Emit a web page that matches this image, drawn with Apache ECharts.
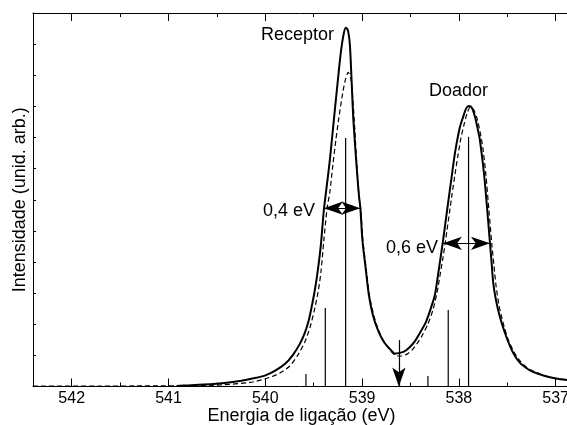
<!DOCTYPE html>
<html>
<head>
<meta charset="utf-8">
<script src="https://cdn.jsdelivr.net/npm/echarts@6.0.0/dist/echarts.min.js"></script>
<style>
  html, body { margin: 0; padding: 0; background: #fff; }
  #chart { width: 567px; height: 425px; }
</style>
</head>
<body>
<div id="chart"></div>
<script>
// energia (eV) e intensidade
const solidE = [540.918, 540.780, 540.470, 540.263, 540.108, 540.005, 539.902, 539.798, 539.716, 539.643,
  539.592, 539.550, 539.519, 539.488, 539.457, 539.426, 539.395, 539.364, 539.333, 539.292,
  539.250, 539.219, 539.188, 539.168, 539.147, 539.126, 539.111, 539.090, 539.054, 539.033,
  539.018, 538.997, 538.961, 538.930, 538.889, 538.837, 538.775, 538.713, 538.661, 538.610,
  538.558, 538.506, 538.454, 538.403, 538.341, 538.289, 538.248, 538.217, 538.191, 538.170,
  538.150, 538.127, 538.103, 538.075, 538.051, 538.023, 537.989, 537.955, 537.927, 537.896,
  537.865, 537.834, 537.803, 537.783, 537.741, 537.707, 537.690, 537.679, 537.664, 537.645,
  537.617, 537.576, 537.524, 537.472, 537.421, 537.369, 537.297, 537.235, 537.111, 536.997, 536.883];
const solidI = [0.02, 0.04, 0.10, 0.18, 0.27, 0.35, 0.50, 0.72, 1.01, 1.37,
  1.72, 2.14, 2.59, 3.10, 3.74, 4.55, 5.67, 6.47, 7.28, 8.56,
  9.85, 10.75, 11.36, 11.53, 11.45, 10.97, 10.01, 8.56, 6.96, 6.15,
  5.74, 4.71, 3.74, 2.94, 2.30, 1.82, 1.43, 1.21, 1.06, 1.08,
  1.14, 1.27, 1.46, 1.72, 2.07, 2.52, 2.94, 3.55, 4.10, 4.55,
  5.00, 5.54, 6.09, 6.73, 7.28, 7.82, 8.34, 8.67, 8.92, 9.01,
  8.95, 8.67, 8.24, 7.92, 6.86, 5.67, 5.03, 4.61, 4.06, 3.33,
  2.78, 2.23, 1.72, 1.30, 0.98, 0.76, 0.58, 0.47, 0.34, 0.26, 0.21];

const dashE = [542.40, 541.711, 541.194, 540.780, 540.470, 540.160, 540.005, 539.850, 539.747, 539.664,
  539.592, 539.540, 539.498, 539.457, 539.426, 539.395, 539.361, 539.333, 539.302, 539.271,
  539.240, 539.209, 539.178, 539.144, 539.116, 539.095, 539.075, 539.054, 539.033, 539.013,
  538.992, 538.956, 538.925, 538.878, 538.827, 538.765, 538.703, 538.641, 538.589, 538.537,
  538.485, 538.434, 538.382, 538.320, 538.268, 538.227, 538.196, 538.165, 538.144, 538.124,
  538.098, 538.072, 538.041, 538.010, 537.979, 537.948, 537.917, 537.881, 537.845, 537.814,
  537.783, 537.752, 537.721, 537.690, 537.659, 537.638, 537.617, 537.586, 537.545, 537.493,
  537.431, 537.369, 537.297, 537.214, 537.111, 536.997, 536.883];
const dashI = [0.01, 0.01, 0.02, 0.02, 0.05, 0.13, 0.24, 0.43, 0.66, 1.01,
  1.43, 1.88, 2.39, 3.00, 3.65, 4.71, 5.74, 6.25, 7.12, 7.92,
  8.63, 9.27, 9.78, 10.09, 9.91, 9.21, 8.24, 7.12, 6.15, 5.67,
  4.71, 3.74, 2.94, 2.27, 1.78, 1.40, 1.14, 0.98, 0.98, 1.04,
  1.17, 1.37, 1.62, 2.01, 2.46, 3.00, 3.55, 4.13, 4.55, 5.00,
  5.57, 6.15, 6.80, 7.42, 7.98, 8.40, 8.76, 8.98, 8.88, 8.63,
  8.21, 7.66, 6.80, 5.67, 4.55, 3.90, 3.26, 2.62, 2.07, 1.53,
  1.11, 0.82, 0.61, 0.47, 0.34, 0.26, 0.21];

// linhas verticais (transicoes)
const stickE = [539.58, 539.38, 539.17, 538.32, 538.11, 537.90];
const stickI = [0.40, 2.52, 7.98, 0.34, 2.46, 8.02];

// setas: [E inicio, E fim, intensidade]
const fwhmReceptor = [539.395, 539.018, 5.73];
const fwhmDoador = [538.165, 537.679, 4.60];
const arrowDown = [538.62, 1.49, 0.0];

const majorTicks = [537, 538, 539, 540, 541, 542];
const minorTicks = [537.5, 538.5, 539.5, 540.5, 541.5];

const zip = (a, b) => a.map((v, i) => [v, b[i]]);

const font = 'Liberation Sans, Arial, Helvetica, sans-serif';
const black = '#000';

const baseX = {
  type: 'value',
  min: 536.852,
  max: 542.4,
  inverse: true,
  splitLine: {show: false}
};

const chart = echarts.init(document.getElementById('chart'), null, {renderer: 'canvas'});
chart.setOption({
  animation: false,
  backgroundColor: '#fff',
  grid: {left: 33, right: -3, top: 13, bottom: 38.5, containLabel: false, outerBoundsMode: 'none'},
  xAxis: [
    Object.assign({}, baseX, {
      position: 'bottom',
      axisLine: {show: true, onZero: false, lineStyle: {color: black, width: 1}},
      axisTick: {show: true, inside: true, length: 8, customValues: majorTicks, lineStyle: {color: black}},
      axisLabel: {show: true, customValues: majorTicks, margin: 4, fontSize: 16, color: black, fontFamily: font},
      name: 'Energia de ligação (eV)',
      nameLocation: 'middle',
      nameGap: 21,
      nameMoveOverlap: false,
      nameTextStyle: {fontSize: 18, color: black, fontFamily: font, verticalAlign: 'top'}
    }),
    Object.assign({}, baseX, {
      position: 'bottom',
      axisLine: {show: false},
      axisTick: {show: true, inside: true, length: 4, customValues: minorTicks, lineStyle: {color: black}},
      axisLabel: {show: false}
    }),
    Object.assign({}, baseX, {
      position: 'top',
      axisLine: {show: true, onZero: false, lineStyle: {color: black, width: 1}},
      axisTick: {show: true, inside: true, length: 8, customValues: majorTicks, lineStyle: {color: black}},
      axisLabel: {show: false}
    }),
    Object.assign({}, baseX, {
      position: 'top',
      axisLine: {show: false},
      axisTick: {show: true, inside: true, length: 4, customValues: minorTicks, lineStyle: {color: black}},
      axisLabel: {show: false}
    })
  ],
  yAxis: {
    type: 'value',
    min: 0,
    max: 12,
    interval: 1,
    axisLine: {show: true, onZero: false, lineStyle: {color: black, width: 1}},
    axisTick: {show: true, inside: true, length: 3, lineStyle: {color: black}},
    axisLabel: {show: false},
    splitLine: {show: false},
    name: 'Intensidade (unid. arb.)',
    nameLocation: 'middle',
    nameGap: 4,
    nameMoveOverlap: false,
    nameTextStyle: {fontSize: 18, color: black, fontFamily: font}
  },
  series: [
    {
      type: 'line',
      data: zip(dashE, dashI),
      symbol: 'none',
      smooth: 0.25,
      lineStyle: {color: black, width: 1.2, type: [5, 3]},
      z: 3
    },
    {
      type: 'line',
      data: zip(solidE, solidI),
      symbol: 'none',
      smooth: 0.25,
      lineStyle: {color: black, width: 2},
      z: 4
    },
    {
      type: 'bar',
      data: zip(stickE, stickI),
      barWidth: 1.2,
      itemStyle: {color: black},
      silent: true,
      z: 2,
      markLine: {
        silent: true,
        symbol: ['arrow', 'arrow'],
        symbolSize: [10, 19],
        label: {show: false},
        lineStyle: {color: black, width: 1.2, type: 'solid'},
        emphasis: {disabled: true},
        data: [
          [{coord: [fwhmReceptor[0], fwhmReceptor[2]]}, {coord: [fwhmReceptor[1], fwhmReceptor[2]]}],
          [{coord: [fwhmDoador[0], fwhmDoador[2]]}, {coord: [fwhmDoador[1], fwhmDoador[2]]}],
          [{coord: [arrowDown[0], arrowDown[1]], symbol: 'none'}, {coord: [arrowDown[0], arrowDown[2]], symbol: 'arrow'}]
        ]
      }
    }
  ],
  graphic: [
    {type: 'text', left: 261, top: 26, style: {text: 'Receptor', font: '18px ' + font, fill: black}},
    {type: 'text', left: 429, top: 82, style: {text: 'Doador', font: '18px ' + font, fill: black}},
    {type: 'text', left: 263, top: 202, style: {text: '0,4 eV', font: '18px ' + font, fill: black}},
    {type: 'text', left: 386, top: 239, style: {text: '0,6 eV', font: '18px ' + font, fill: black}}
  ]
});
</script>
</body>
</html>
